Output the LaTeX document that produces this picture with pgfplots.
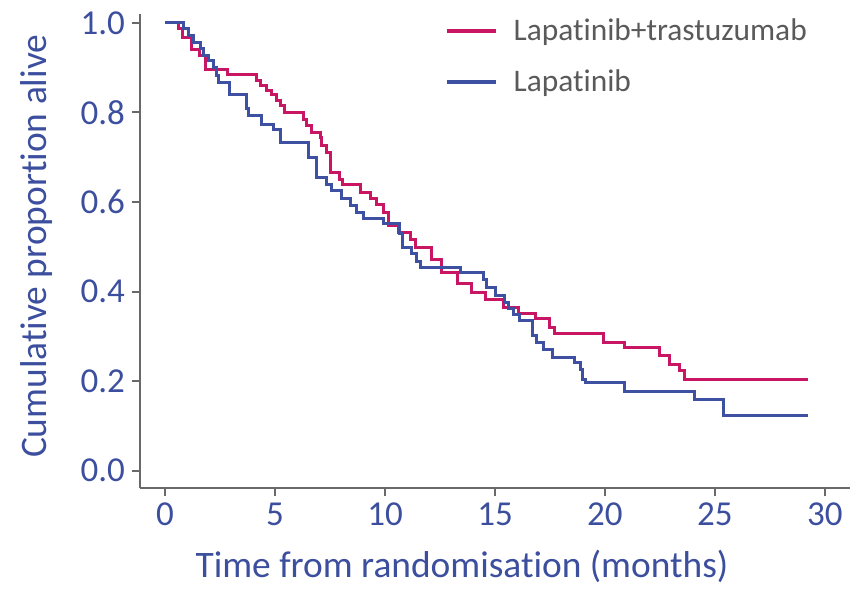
\documentclass[border=0pt]{standalone}
\usepackage{fontspec}
\setmainfont{Carlito}[Ligatures={NoCommon}]
\usepackage{pgfplots}
\pgfplotsset{compat=1.18}
\definecolor{kmRed}{RGB}{200,22,100}
\definecolor{kmBlue}{RGB}{62,80,162}
\definecolor{txtBlue}{RGB}{60,78,158}
\definecolor{axGray}{RGB}{105,105,105}
\definecolor{legGray}{RGB}{90,90,90}

\begin{document}
\begin{tikzpicture}
\begin{axis}[
    name=ax,
    scale only axis,
    width=355pt, height=237pt,
    xmin=-1.14, xmax=31.14,
    ymin=-0.039, ymax=1.02,
    axis lines=left,
    axis line style={-, axGray, line width=1pt},
    tick style={axGray, line width=1pt},
    tick align=outside,
    major tick length=4pt,
    xtick={0,5,...,30},
    ytick={0,0.2,...,1.0},
    yticklabel style={/pgf/number format/.cd, fixed, fixed zerofill, precision=1},
    /pgf/number format/assume math mode=true,
    ticklabel style={font=\fontsize{17.5}{21}\selectfont, text=txtBlue},
    xlabel={Time from randomisation (months)},
    ylabel={Cumulative proportion alive},
    every axis x label/.style={at={(axis description cs:0.4535,0)}, yshift=-39pt, anchor=center,
        font=\fontsize{18.7}{22}\selectfont, text=txtBlue},
    every axis y label/.style={at={(axis description cs:0,0.51)}, xshift=-51.5pt, rotate=90, anchor=center,
        font=\fontsize{18.7}{22}\selectfont, text=txtBlue},
    legend style={draw=none, fill=none, at={(axis description cs:0.42,1.007)}, anchor=north west,
        font=\fontsize{15.7}{18}\selectfont, text=legGray, row sep=9pt,
        legend cell align=left,
        /tikz/every odd column/.append style={column sep=6pt}},
    legend image code/.code={\draw[#1, line width=2pt] (0pt,0pt) -- (24.5pt,0pt);},
]
\addplot[const plot, color=kmRed, line width=1.5pt] coordinates {
    (0,1.0) (0.61,0.987) (0.79,0.968) (1.21,0.941) (1.56,0.928) (1.82,0.897)
    (2.83,0.885) (4.14,0.871) (4.32,0.860) (4.62,0.850) (4.85,0.840) (5.08,0.827)
    (5.23,0.815) (5.45,0.800) (6.29,0.785) (6.44,0.771) (6.67,0.756) (7.05,0.745)
    (7.12,0.726) (7.35,0.711) (7.5,0.666) (7.95,0.651) (8.05,0.640) (8.9,0.622)
    (9.35,0.607) (9.6,0.594) (9.95,0.577) (10.15,0.547) (10.6,0.532) (11.14,0.517)
    (11.4,0.499) (12.1,0.472) (12.55,0.443) (13.3,0.417) (13.94,0.398) (14.55,0.383)
    (15.38,0.365) (16.06,0.351) (16.86,0.340) (17.5,0.320) (17.7,0.307) (19.92,0.287)
    (20.9,0.275) (22.5,0.257) (22.95,0.238) (23.4,0.223) (23.6,0.203) (29.24,0.203)
};
\addlegendentry{Lapatinib+trastuzumab}
\addplot[const plot, color=kmBlue, line width=1.5pt] coordinates {
    (0,1.0) (0.83,0.988) (1.06,0.972) (1.29,0.957) (1.59,0.942) (1.74,0.927)
    (1.97,0.916) (2.2,0.901) (2.35,0.882) (2.42,0.867) (2.95,0.840) (3.71,0.808)
    (3.79,0.793) (4.39,0.774) (4.92,0.763) (5.23,0.734) (6.52,0.700) (6.89,0.655)
    (7.35,0.640) (7.58,0.625) (8.03,0.607) (8.41,0.592) (8.71,0.577) (9.01,0.562)
    (9.92,0.551) (10.68,0.530) (10.8,0.499) (11.2,0.484) (11.43,0.467) (11.6,0.454)
    (13.41,0.443) (14.47,0.427) (14.6,0.409) (15.0,0.391) (15.45,0.376) (15.6,0.361)
    (15.83,0.348) (16.1,0.335) (16.7,0.301) (16.9,0.285) (17.2,0.271) (17.6,0.253)
    (18.6,0.241) (18.9,0.226) (19.0,0.204) (19.1,0.196) (20.9,0.176) (24.05,0.158)
    (25.4,0.123) (29.24,0.123)
};
\addlegendentry{Lapatinib}
\end{axis}
\path (ax.south west) ++(-70pt,-47pt) rectangle ++(428pt,291pt);
\end{tikzpicture}
\end{document}
